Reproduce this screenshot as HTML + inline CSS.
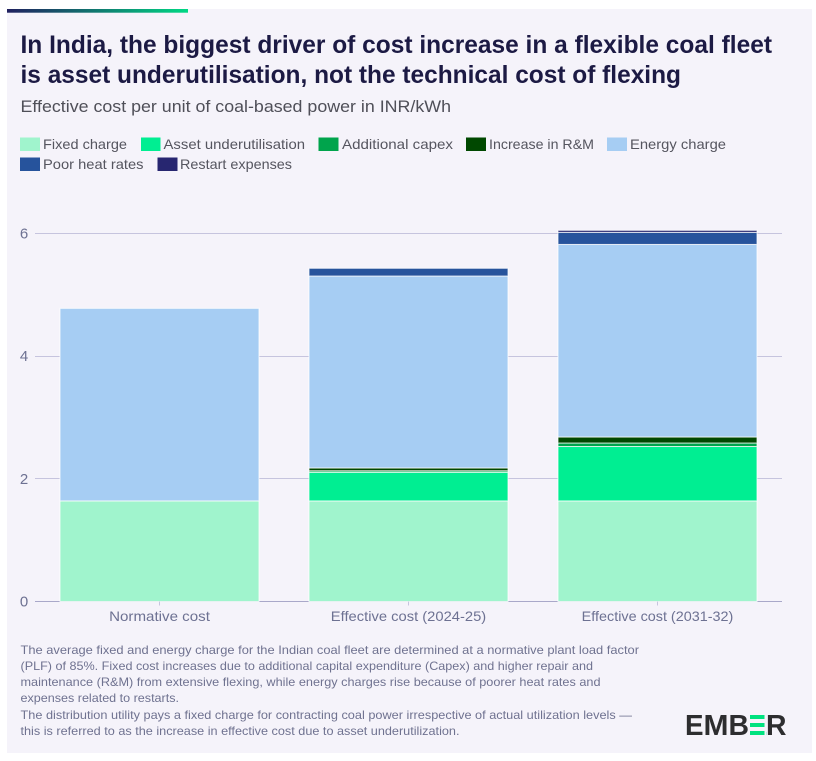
<!DOCTYPE html>
<html lang="en">
<head>
<meta charset="utf-8">
<title>Effective cost of coal-based power in India</title>
<style>
html,body{margin:0;padding:0;background:#fff;width:816px;height:761px;overflow:hidden}
svg{display:block}
text{font-family:"Liberation Sans",sans-serif}
.title{font-size:25px;font-weight:700;fill:#1c1a44}
.sub{font-size:16.5px;fill:#4f4f58}
.leg{font-size:14px;fill:#55555f}
.foot{font-size:12px;fill:#6f7290}
.tick{font-size:14px;fill:#6d7192}
.logo{font-size:29px;font-weight:700;fill:#2d2d2f}
</style>
</head>
<body>
<svg id="chart" xmlns="http://www.w3.org/2000/svg" width="816" height="761" viewBox="0 0 816 761">
<defs>
<linearGradient id="topGrad" x1="0" x2="1" y1="0" y2="0">
<stop offset="0" stop-color="#20205f"/>
<stop offset="0.5" stop-color="#107a70"/>
<stop offset="1" stop-color="#00d884"/>
</linearGradient>
</defs>
<rect x="7" y="9" width="805" height="744" fill="#f5f3fa"/>
<rect x="7" y="9" width="181" height="3.7" fill="url(#topGrad)"/>

<text class="title" x="20.5" y="53" textLength="751.5" lengthAdjust="spacingAndGlyphs">In India, the biggest driver of cost increase in a flexible coal fleet</text>
<text class="title" x="20.5" y="83" textLength="660.5" lengthAdjust="spacingAndGlyphs">is asset underutilisation, not the technical cost of flexing</text>
<text class="sub" x="20.5" y="112" textLength="430.5" lengthAdjust="spacingAndGlyphs">Effective cost per unit of coal-based power in INR/kWh</text>

<g>
<g><rect x="20" y="137.5" width="20" height="13.5" fill="#a0f4cd"/><text class="leg" x="43" y="149" textLength="84" lengthAdjust="spacingAndGlyphs">Fixed charge</text></g>
<g><rect x="141" y="137.5" width="19.5" height="13.5" fill="#00ee92"/><text class="leg" x="163.5" y="149" textLength="141.5" lengthAdjust="spacingAndGlyphs">Asset underutilisation</text></g>
<g><rect x="318.5" y="137.5" width="20" height="13.5" fill="#00a44c"/><text class="leg" x="342" y="149" textLength="111" lengthAdjust="spacingAndGlyphs">Additional capex</text></g>
<g><rect x="466" y="137.5" width="20" height="13.5" fill="#004800"/><text class="leg" x="489" y="149" textLength="105" lengthAdjust="spacingAndGlyphs">Increase in R&amp;M</text></g>
<g><rect x="607" y="137.5" width="20" height="13.5" fill="#a6cdf3"/><text class="leg" x="630" y="149" textLength="96" lengthAdjust="spacingAndGlyphs">Energy charge</text></g>
<g><rect x="20" y="157.5" width="20" height="13.5" fill="#26539c"/><text class="leg" x="43" y="169" textLength="100.5" lengthAdjust="spacingAndGlyphs">Poor heat rates</text></g>
<g><rect x="157.5" y="157.5" width="20" height="13.5" fill="#272670"/><text class="leg" x="180" y="169" textLength="112" lengthAdjust="spacingAndGlyphs">Restart expenses</text></g>
</g>

<g id="grid"></g>
<g id="bars"></g>
<g id="axes"></g>

<g>
<text class="foot" x="20.5" y="654" textLength="618.5" lengthAdjust="spacingAndGlyphs">The average fixed and energy charge for the Indian coal fleet are determined at a normative plant load factor</text>
<text class="foot" x="20.5" y="670" textLength="572.5" lengthAdjust="spacingAndGlyphs">(PLF) of 85%. Fixed cost increases due to additional capital expenditure (Capex) and higher repair and</text>
<text class="foot" x="20.5" y="686" textLength="580" lengthAdjust="spacingAndGlyphs">maintenance (R&amp;M) from extensive flexing, while energy charges rise because of poorer heat rates and</text>
<text class="foot" x="20.5" y="702" textLength="158.5" lengthAdjust="spacingAndGlyphs">expenses related to restarts.</text>
<text class="foot" x="20.5" y="719" textLength="611.5" lengthAdjust="spacingAndGlyphs">The distribution utility pays a fixed charge for contracting coal power irrespective of actual utilization levels —</text>
<text class="foot" x="20.5" y="735" textLength="439" lengthAdjust="spacingAndGlyphs">this is referred to as the increase in effective cost due to asset underutilization.</text>
</g>

<g>
<text class="logo" x="685" y="735" textLength="18.5" lengthAdjust="spacingAndGlyphs">E</text>
<text class="logo" x="703.5" y="735" textLength="25" lengthAdjust="spacingAndGlyphs">M</text>
<text class="logo" x="728.5" y="735" textLength="20.5" lengthAdjust="spacingAndGlyphs">B</text>
<text class="logo" x="748" y="735" style="fill:#00e27f">E</text>
<rect x="748" y="713" width="18" height="24" fill="#f5f3fa"/>
<rect x="750" y="715" width="14.5" height="4" fill="#00e27f"/>
<rect x="750" y="723" width="14.5" height="4" fill="#00e27f"/>
<rect x="750" y="731" width="14.5" height="4" fill="#00e27f"/>
<text class="logo" x="766" y="735" textLength="20.5" lengthAdjust="spacingAndGlyphs">R</text>
</g>
</svg>

<script>
const categories = ["Normative cost", "Effective cost (2024-25)", "Effective cost (2031-32)"];
const fixedCharge = [1.64, 1.64, 1.64];
const assetUnderutilisation = [0, 0.467, 0.887];
const additionalCapex = [0, 0.025, 0.057];
const increaseInRM = [0, 0.045, 0.098];
const energyCharge = [3.14, 3.13, 3.14];
const poorHeatRates = [0, 0.126, 0.197];
const restartExpenses = [0, 0, 0.033];
const yTicks = [0, 2, 4, 6];

const seriesNames = ["fixed-charge", "asset-underutilisation", "additional-capex", "increase-in-rm", "energy-charge", "poor-heat-rates", "restart-expenses"];
const seriesValues = [fixedCharge, assetUnderutilisation, additionalCapex, increaseInRM, energyCharge, poorHeatRates, restartExpenses];
const seriesColors = ["#a0f4cd", "#00ee92", "#00a44c", "#004800", "#a6cdf3", "#26539c", "#272670"];

const NS = "http://www.w3.org/2000/svg";
const plotLeft = 35, plotRight = 782, y0 = 601.5, unit = 61.33;
const bandLeft = 35, bandStep = 249, barWidth = 199;
function yScale(v) { return y0 - v * unit; }
function xCenter(i) { return bandLeft + bandStep * (i + 0.5); }
function labelStretch(i) { return i === 0 ? 1.08 : (i === 1 ? 1.053 : 1.027); }

const grid = document.getElementById("grid");
const axes = document.getElementById("axes");
const bars = document.getElementById("bars");

yTicks.forEach(function (t) {
  const lineY = Math.floor(yScale(t)) + 0.5;
  const line = document.createElementNS(NS, "line");
  
  
  line.setAttribute("x1", plotLeft);
  line.setAttribute("x2", plotRight);
  line.setAttribute("y1", lineY);
  line.setAttribute("y2", lineY);
  line.setAttribute("stroke", t === 0 ? "#a9a8c9" : "#c6c4de");
  line.setAttribute("stroke-width", "1");
  grid.appendChild(line);

  const label = document.createElementNS(NS, "text");
  
  
  label.setAttribute("class", "tick");
  label.setAttribute("x", 24);
  label.setAttribute("y", yScale(t) + 5);
  label.setAttribute("text-anchor", "middle");
  label.style.fontSize = "15px";
  label.textContent = String(t);
  axes.appendChild(label);
});

categories.forEach(function (cat, i) {
  let base = 0;
  const cx = xCenter(i);
  seriesValues.forEach(function (vals, s) {
    const v = vals[i];
    if (v > 0) {
      const r = document.createElementNS(NS, "rect");
      
      
      r.setAttribute("data-series", seriesNames[s]);
      r.setAttribute("x", cx - barWidth / 2);
      r.setAttribute("width", barWidth);
      r.setAttribute("y", yScale(base + v));
      r.setAttribute("height", v * unit);
      r.setAttribute("fill", seriesColors[s]);
      r.setAttribute("stroke", "rgba(255,255,255,0.75)");
      r.setAttribute("stroke-width", "1");
      bars.appendChild(r);
      base += v;
    }
  });

  const tick = document.createElementNS(NS, "line");
  
  
  tick.setAttribute("x1", cx);
  tick.setAttribute("x2", cx);
  tick.setAttribute("y1", y0);
  tick.setAttribute("y2", y0 + 4);
  tick.setAttribute("stroke", "#c6c4de");
  axes.appendChild(tick);

  const label = document.createElementNS(NS, "text");
  
  
  label.setAttribute("class", "tick");
  label.setAttribute("x", cx);
  label.setAttribute("y", 621);
  label.setAttribute("text-anchor", "middle");
  label.textContent = cat;
  axes.appendChild(label);
  const natural = label.getComputedTextLength();
  label.setAttribute("lengthAdjust", "spacingAndGlyphs");
  label.setAttribute("textLength", (natural * labelStretch(i)).toFixed(1));
});
</script>
</body>
</html>
